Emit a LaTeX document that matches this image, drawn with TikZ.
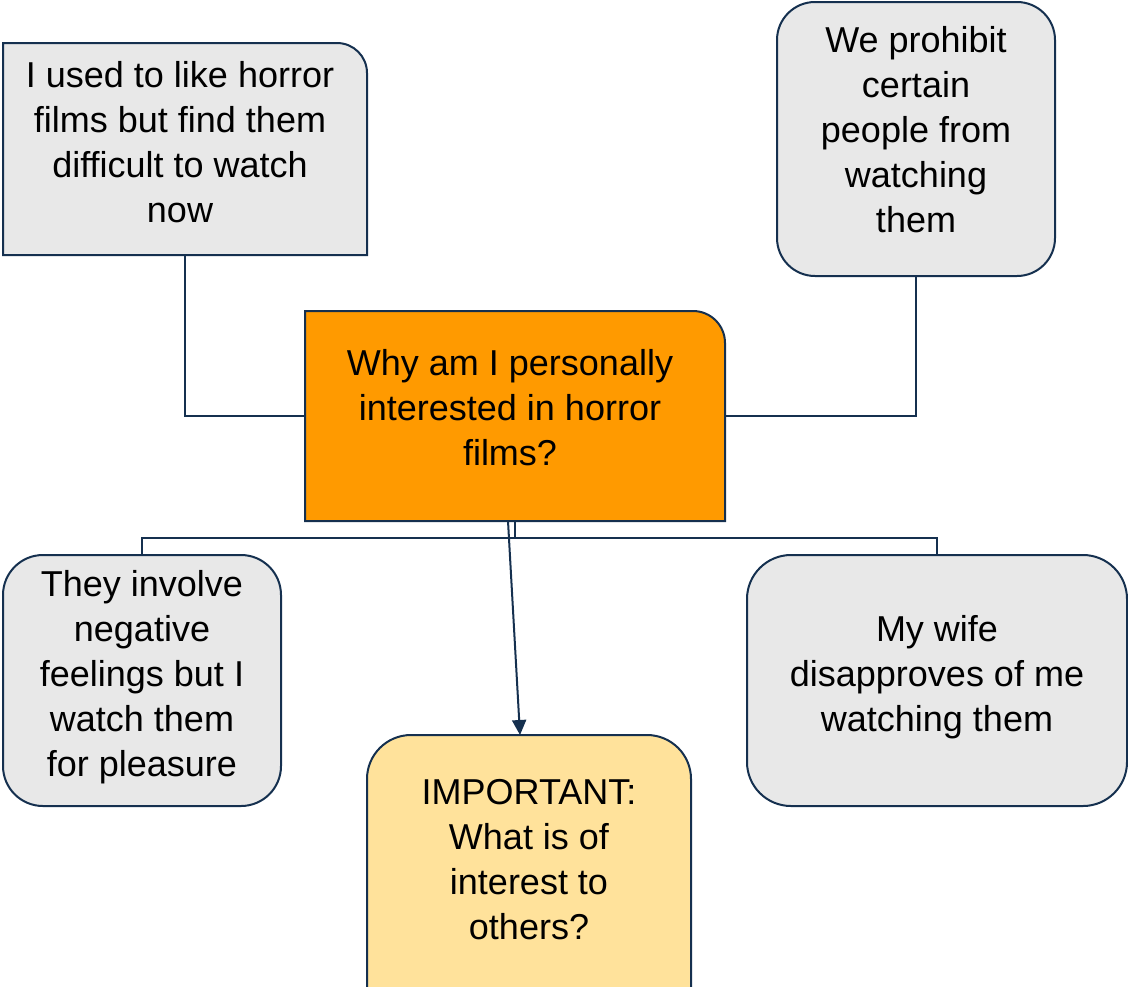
\documentclass[tikz,border=0pt]{standalone}
\usepackage{fontspec}
\setmainfont{Liberation Sans}
\usetikzlibrary{arrows.meta}
\definecolor{navy}{HTML}{15304F}
\definecolor{grayfill}{HTML}{E8E8E8}
\definecolor{orangefill}{HTML}{FF9A00}
\definecolor{yellowfill}{HTML}{FFE29B}
\tikzset{
  txt/.style={font=\fontsize{18}{22.5}\selectfont, align=center, inner sep=0pt, text=black},
  boxnode/.style={inner sep=0pt, outer sep=0pt},
  boxline/.style={draw=navy, line width=1pt},
  conn/.style={draw=navy, line width=1pt},
}
\begin{document}
\begin{tikzpicture}[x=0.5pt,y=-0.5pt]
\useasboundingbox (0,0) rectangle (1128,986);
\clip (0,0) rectangle (1128,986);

% box nodes (frames)
\node[boxnode, minimum width=182pt, minimum height=106pt] (A) at (185,149) {};
\node[boxnode, boxline, fill=grayfill, rounded corners=19pt, minimum width=139pt, minimum height=137pt] (B) at (916,139) {};
\node[boxnode, minimum width=210pt, minimum height=105pt] (C) at (515,416) {};
\node[boxnode, boxline, fill=grayfill, rounded corners=20pt, minimum width=139pt, minimum height=125.5pt] (D) at (142,680.5) {};
\node[boxnode, boxline, fill=grayfill, rounded corners=22pt, minimum width=190pt, minimum height=125.5pt] (E) at (937,680.5) {};
\node[boxnode, minimum width=162pt, minimum height=125pt] (F) at (529,860) {};

\filldraw[boxline, fill=grayfill] (A.south west) -- (A.north west)
  -- ([xshift=-15pt]A.north east) arc[start angle=90, end angle=0, radius=15pt]
  -- (A.south east) -- cycle;
\filldraw[boxline, fill=orangefill] (C.south west) -- (C.north west)
  -- ([xshift=-16pt]C.north east) arc[start angle=90, end angle=0, radius=16pt]
  -- (C.south east) -- cycle;
\filldraw[boxline, fill=yellowfill] ([yshift=-10pt]F.south west)
  -- ([yshift=-22pt]F.north west) arc[start angle=180, end angle=90, radius=22pt]
  -- ([xshift=-22pt]F.north east) arc[start angle=90, end angle=0, radius=22pt]
  -- ([yshift=-10pt]F.south east);

% texts
\node[txt, xshift=-2.5pt, yshift=3.5pt] (At) at (A)
  {I used to like horror\\films but find them\\difficult to watch\\now};
\node[txt, yshift=4.5pt] (Bt) at (B)
  {We prohibit\\certain\\people from\\watching\\them};
\node[txt, xshift=-2.5pt, yshift=4pt] (Ct) at (C)
  {Why am I personally\\interested in horror\\films?};
\node[txt, yshift=1.5pt] (Dt) at (D)
  {They involve\\negative\\feelings but I\\watch them\\for pleasure};
\node[txt, yshift=1.5pt] (Et) at (E)
  {My wife\\disapproves of me\\watching them};
\node[txt] (Ft) at (F)
  {IMPORTANT:\\What is of\\interest to\\others?};

% connectors
\coordinate (bus) at (0,538);
\draw[conn] (A.south) |- (C.west);
\draw[conn] (B.south) |- (C.east);
\draw[conn] (C.south) -- (C.south |- bus);
\draw[conn] (D.north) -- (D.north |- bus) -- (E.north |- bus) -- (E.north);
\draw[conn, -{Triangle[length=7.5pt, width=7pt]}] ([xshift=-3.5pt]C.south) -- ([xshift=-4.5pt]F.north);
\end{tikzpicture}
\end{document}
